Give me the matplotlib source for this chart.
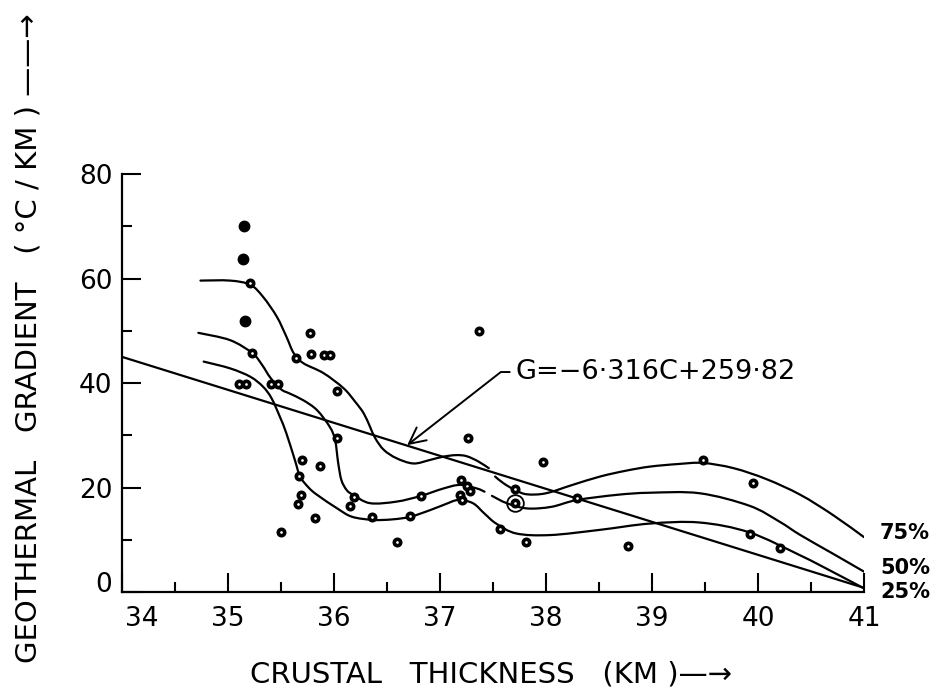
import matplotlib
matplotlib.use("Agg")
import matplotlib.pyplot as plt
import matplotlib.transforms as mtransforms
from matplotlib.path import Path
from matplotlib.patches import PathPatch

# Observations (crustal thickness km, gradient C/km)
big_x = [35.15, 35.14, 35.16]
big_y = [70.0, 63.7, 51.9]

obs_x = [35.21, 35.77, 35.64, 35.78, 35.91, 35.96, 35.23, 35.10, 35.17, 35.41,
         35.47, 36.03, 36.03, 35.70, 35.87, 35.67, 35.69, 35.66, 35.82, 35.50,
         36.19, 36.15, 36.36, 36.72, 36.82, 36.59, 37.37, 37.26, 37.97, 37.20,
         37.25, 37.19, 37.28, 37.21, 37.71, 38.29, 37.57, 37.81, 38.77, 39.48,
         39.95, 39.92, 40.21]
obs_y = [59.1, 49.6, 44.7, 45.5, 45.3, 45.3, 45.7, 39.8, 39.8, 39.8,
         39.8, 38.5, 29.4, 25.3, 24.2, 22.2, 18.6, 16.8, 14.1, 11.5,
         18.2, 16.5, 14.4, 14.5, 18.4, 9.5, 50.0, 29.5, 24.8, 21.5,
         20.3, 18.5, 19.3, 17.6, 19.8, 17.9, 12.0, 9.5, 8.8, 25.3,
         20.8, 11.1, 8.5]

ringed_x = [37.71]
ringed_y = [17.0]

# regression line G = -6.316C + 259.82 (end points)
reg_x = [34.0, 41.0]
reg_y = [45.0, 0.8]

# hand drawn percentile curves, traced
p75a_x = [34.74, 35.02, 35.21, 35.33, 35.46, 35.55, 35.62, 35.71, 35.90, 36.09,
          36.20, 36.28, 36.34, 36.39, 36.47, 36.59, 36.75, 36.91, 37.03,
          37.15, 37.25, 37.36, 37.46]
p75a_y = [59.6, 59.6, 58.8, 56.5, 52.7, 48.9, 45.7, 43.8, 41.9, 39.0,
          36.4, 34.2, 31.6, 29.4, 27.2, 25.6, 24.6, 25.3, 25.9,
          26.2, 26.0, 25.0, 23.7]
p75b_x = [37.52, 37.60, 37.71, 37.82, 38.00, 38.25, 38.51, 38.75, 38.98, 39.25,
          39.48, 39.77, 40.08, 40.40, 40.71, 41.00]
p75b_y = [22.1, 20.8, 19.5, 18.7, 18.9, 20.5, 22.1, 23.2, 24.0, 24.5,
          24.7, 23.7, 21.6, 18.6, 14.7, 10.5]

p50a_x = [34.72, 35.02, 35.23, 35.32, 35.40, 35.50, 35.58, 35.71, 35.84, 35.96,
          36.01, 36.04, 36.07, 36.12, 36.18, 36.34, 36.59, 36.82, 37.03, 37.19,
          37.35, 37.42]
p50a_y = [49.6, 48.2, 45.7, 43.5, 41.0, 38.8, 38.0, 36.7, 34.8, 31.6,
          29.1, 24.6, 21.4, 19.5, 18.6, 17.0, 17.3, 18.4, 19.8, 20.5,
          19.8, 19.2]
p50b_x = [37.49, 37.63, 37.82, 38.05, 38.29, 38.67, 38.98, 39.45, 39.92, 40.20,
          40.40, 40.71, 41.00]
p50b_y = [18.4, 17.0, 16.0, 16.3, 17.6, 18.6, 19.0, 18.9, 16.5, 13.5,
          10.9, 7.3, 3.9]

p25_x = [34.77, 35.02, 35.21, 35.33, 35.41, 35.49, 35.55, 35.63, 35.68, 35.76,
         35.84, 36.03, 36.17, 36.37, 36.55, 36.72, 36.91, 37.05, 37.17, 37.31,
         37.42, 37.53, 37.72, 38.04, 38.51, 38.98, 39.45, 39.92, 40.40, 40.70,
         41.00]
p25_y = [44.1, 42.8, 41.2, 39.3, 37.1, 33.5, 30.4, 25.3, 22.1, 20.0,
         18.6, 16.0, 14.4, 13.8, 13.9, 14.4, 15.7, 16.8, 17.6, 17.0,
         15.0, 13.1, 11.2, 10.9, 11.9, 13.1, 13.3, 11.4, 7.0, 3.9,
         0.7]

pct_labels = ["75%", "50%", "25%"]


def smooth_path(xs, ys):
    # bezier through the traced points (catmull-rom tangents)
    pts = list(zip(xs, ys))
    verts = [pts[0]]
    codes = [Path.MOVETO]
    n = len(pts)
    for i in range(n - 1):
        p0 = pts[i - 1] if i > 0 else pts[i]
        p1 = pts[i]
        p2 = pts[i + 1]
        p3 = pts[i + 2] if i + 2 < n else pts[i + 1]
        c1 = (p1[0] + (p2[0] - p0[0]) / 6, p1[1] + (p2[1] - p0[1]) / 6)
        c2 = (p2[0] - (p3[0] - p1[0]) / 6, p2[1] - (p3[1] - p1[1]) / 6)
        verts += [c1, c2, p2]
        codes += [Path.CURVE4] * 3
    return Path(verts, codes)


plt.rcParams["font.family"] = "DejaVu Sans"

fig = plt.figure(figsize=(9.38, 6.96), dpi=100)
ax = fig.add_axes([0.1301, 0.1494, 0.791, 0.6006])

lw = 1.6
ax.plot(reg_x, reg_y, color="black", lw=lw)
for cx, cy in [(p75a_x, p75a_y), (p75b_x, p75b_y), (p50a_x, p50a_y),
               (p50b_x, p50b_y), (p25_x, p25_y)]:
    ax.add_patch(PathPatch(smooth_path(cx, cy), fill=False, ec="black",
                           lw=lw, capstyle="round"))

ax.plot(obs_x, obs_y, "o", ms=4.6, mfc="white", mec="black", mew=2.6)
ax.plot(big_x, big_y, "o", ms=7.5, color="black")
ax.plot(ringed_x, ringed_y, "o", ms=4.6, mfc="white", mec="black", mew=2.6)
ax.plot(ringed_x, ringed_y, "o", ms=12, mfc="none", mec="black", mew=1.3)

ax.annotate("G=\u22126\u00b7316C+259\u00b782", xy=(36.69, 28.1), xytext=(37.71, 42.1),
            fontsize=19.5, va="center", ha="left",
            arrowprops=dict(arrowstyle="->,head_length=0.6,head_width=0.3",
                            color="black", lw=1.4, shrinkA=2, shrinkB=0,
                            connectionstyle="angle,angleA=0,angleB=38,rad=0",
                            relpos=(0, 0.5)))

# percentile labels at the right end
for lab, py in zip(pct_labels, [533, 568, 592]):
    fig.text(880 / 938, 1 - py / 696, lab, fontsize=15, fontweight="bold", va="center")

ax.set_xlim(34, 41)
ax.set_ylim(0, 80)
ax.set_xticks(range(34, 42))
ax.set_xticks([34.5 + i for i in range(7)], minor=True)
ax.set_yticks(range(0, 81, 20))
ax.set_yticks(range(10, 80, 20), minor=True)
ax.tick_params(which="both", direction="in", width=1.5, labelsize=19)
ax.tick_params(which="major", length=14)
ax.tick_params(which="minor", length=7)
ax.tick_params(axis="x", pad=10)
ax.tick_params(axis="y", pad=7)
for s in ["top", "right"]:
    ax.spines[s].set_visible(False)
for s in ["left", "bottom"]:
    ax.spines[s].set_linewidth(1.6)

# nudge "34" and "0" away from the corner
fig.canvas.draw()
xl = ax.get_xticklabels()[0]
xl.set_transform(xl.get_transform() + mtransforms.ScaledTranslation(14 / 72, 0, fig.dpi_scale_trans))
yl = ax.get_yticklabels()[0]
yl.set_transform(yl.get_transform() + mtransforms.ScaledTranslation(0, 7 / 72, fig.dpi_scale_trans))

fig.text(250 / 938, 1 - 675 / 696, "CRUSTAL   THICKNESS   (KM )\u2014\u2192",
         fontsize=21, ha="left", va="center")
fig.text(29 / 938, 1 - 663 / 696, "GEOTHERMAL   GRADIENT   ( \u00b0C / KM ) \u2014\u2014\u2192",
         fontsize=21, rotation=90, ha="center", va="bottom")

fig.savefig("out.png", dpi=100)
